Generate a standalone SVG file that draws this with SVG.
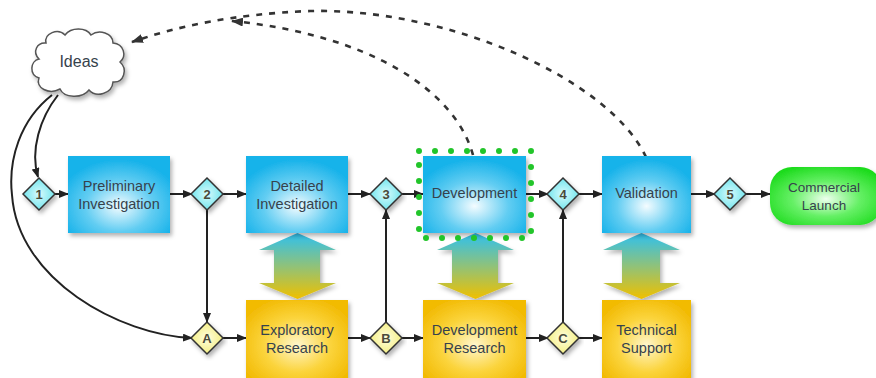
<svg xmlns="http://www.w3.org/2000/svg" width="876" height="378" viewBox="0 0 876 378">
<defs>
<radialGradient id="gBlue" cx="0.5" cy="0.65" r="0.6">
<stop offset="0" stop-color="#f4fcff"/><stop offset="0.55" stop-color="#62cdf2"/><stop offset="1" stop-color="#19b3ea"/>
</radialGradient>
<radialGradient id="gYel" cx="0.5" cy="0.55" r="0.6">
<stop offset="0" stop-color="#fff6cc"/><stop offset="0.55" stop-color="#fbd43c"/><stop offset="1" stop-color="#f2bb05"/>
</radialGradient>
<radialGradient id="gGreen" cx="0.5" cy="0.55" r="0.6">
<stop offset="0" stop-color="#eeffee"/><stop offset="0.5" stop-color="#66f066"/><stop offset="1" stop-color="#1fdc1f"/>
</radialGradient>
<linearGradient id="gArrow" x1="0" y1="0" x2="0" y2="1">
<stop offset="0" stop-color="#2ec0f0"/><stop offset="0.5" stop-color="#8fc27a"/><stop offset="1" stop-color="#f0c000"/>
</linearGradient>
<radialGradient id="gDiaC" cx="0.5" cy="0.5" r="0.6">
<stop offset="0" stop-color="#d8fbfd"/><stop offset="1" stop-color="#5fe0ea"/>
</radialGradient>
<radialGradient id="gDiaY" cx="0.5" cy="0.5" r="0.6">
<stop offset="0" stop-color="#fffde0"/><stop offset="1" stop-color="#f2ec70"/>
</radialGradient>
<filter id="sh" x="-10%" y="-10%" width="125%" height="130%">
<feDropShadow dx="2" dy="3" stdDeviation="2" flood-color="#000" flood-opacity="0.3"/>
</filter>
<marker id="ah" markerWidth="10" markerHeight="8" refX="9" refY="4" orient="auto" markerUnits="userSpaceOnUse">
<path d="M0,0 L10,4 L0,8 Z" fill="#222"/>
</marker>
<marker id="ahd" markerWidth="12" markerHeight="9" refX="11" refY="4.5" orient="auto" markerUnits="userSpaceOnUse">
<path d="M0,0 L12,4.5 L0,9 Z" fill="#333"/>
</marker>
</defs>
<style>
.t{font-family:"Liberation Sans",Arial,sans-serif;font-size:14.5px;fill:#36424c;text-anchor:middle}
.dt{font-family:"Liberation Sans",Arial,sans-serif;font-size:13px;fill:#4a4a3a;text-anchor:middle;font-weight:bold}
.ln{fill:none;stroke:#222;stroke-width:2}
.dash{fill:none;stroke:#333;stroke-width:2.6;stroke-dasharray:6 7}
.blue{fill:url(#gBlue);filter:url(#sh)}
.yel{fill:url(#gYel);filter:url(#sh)}
.dc{fill:url(#gDiaC);stroke:#333;stroke-width:1.5;filter:url(#sh)}
.dy{fill:url(#gDiaY);stroke:#333;stroke-width:1.5;filter:url(#sh)}
.dbl{fill:url(#gArrow);filter:url(#sh)}
</style>
<rect width="876" height="378" fill="#fff"/>

<g id="connectors">
<path class="dash" d="M646,157 C610,80 450,8 310,11 C235,14 178,26 132,42" marker-end="url(#ahd)"/>
<path class="dash" d="M473,155 C455,90 370,35 232,21" marker-end="url(#ahd)"/>
<path class="ln" d="M52,95 C20,120 8,160 12,195 C18,280 120,335 192,338" marker-end="url(#ah)"/>
<path class="ln" d="M58,95 C40,118 30,150 38,177" marker-end="url(#ah)"/>
<line class="ln" x1="55" y1="194" x2="68" y2="194" marker-end="url(#ah)"/>
<line class="ln" x1="170" y1="194" x2="192" y2="194" marker-end="url(#ah)"/>
<line class="ln" x1="223" y1="194" x2="246" y2="194" marker-end="url(#ah)"/>
<line class="ln" x1="207" y1="210" x2="207" y2="322" marker-end="url(#ah)"/>
<line class="ln" x1="223" y1="338" x2="246" y2="338" marker-end="url(#ah)"/>
<line class="ln" x1="348" y1="194" x2="370" y2="194" marker-end="url(#ah)"/>
<line class="ln" x1="402" y1="194" x2="423" y2="194" marker-end="url(#ah)"/>
<line class="ln" x1="348" y1="338" x2="370" y2="338" marker-end="url(#ah)"/>
<line class="ln" x1="386" y1="322" x2="386" y2="210" marker-end="url(#ah)"/>
<line class="ln" x1="402" y1="338" x2="423" y2="338" marker-end="url(#ah)"/>
<line class="ln" x1="526" y1="194" x2="548" y2="194" marker-end="url(#ah)"/>
<line class="ln" x1="526" y1="338" x2="548" y2="338" marker-end="url(#ah)"/>
<line class="ln" x1="563" y1="322" x2="563" y2="210" marker-end="url(#ah)"/>
<line class="ln" x1="579" y1="194" x2="602" y2="194" marker-end="url(#ah)"/>
<line class="ln" x1="579" y1="338" x2="602" y2="338" marker-end="url(#ah)"/>
<line class="ln" x1="691" y1="194" x2="715" y2="194" marker-end="url(#ah)"/>
<line class="ln" x1="746" y1="194" x2="770" y2="194" marker-end="url(#ah)"/>
<path class="dbl" d="M297.5,233 L336,250 L320,250 L320,283 L336,283 L297.5,299 L259,283 L274,283 L274,250 L259,250 Z"/>
<path class="dbl" d="M475.5,233 L514,250 L498,250 L498,283 L514,283 L475.5,299 L437,283 L452,283 L452,250 L437,250 Z"/>
<path class="dbl" d="M641.5,233 L680,250 L660,250 L660,283 L680,283 L641.5,299 L603,283 L622,283 L622,250 L603,250 Z"/>
</g>

<g id="ideas">
<path d="M46,43 C44,33 58,28 65,35 C71,27 86,27 91,35 C99,29 113,33 113,43 C124,44 127,56 120,62 C128,69 124,83 113,82 C112,94 96,98 89,90 C82,99 64,98 60,89 C49,95 35,88 39,78 C29,75 30,61 39,59 C32,52 37,42 46,43 Z" fill="#fff" stroke="#555" stroke-width="1.5" filter="url(#sh)"/>
<text class="t" x="79" y="67" style="font-size:16px">Ideas</text>
</g>

<g id="prelim">
<rect class="blue" x="68" y="156" width="102" height="77"/>
<text class="t" x="119" y="191">Preliminary</text>
<text class="t" x="119" y="209">Investigation</text>
</g>
<g id="detailed">
<rect class="blue" x="246" y="156" width="102" height="77"/>
<text class="t" x="297" y="191">Detailed</text>
<text class="t" x="297" y="209">Investigation</text>
</g>
<g id="development">
<rect class="blue" x="423" y="156" width="103" height="77"/>
<text class="t" x="474.5" y="198">Development</text>
<rect x="419" y="151" width="112" height="87" fill="none" stroke="#22c52a" stroke-width="6" stroke-linecap="round" stroke-dasharray="0 16"/>
</g>
<g id="validation">
<rect class="blue" x="602" y="156" width="89" height="77"/>
<text class="t" x="646.5" y="198">Validation</text>
</g>
<g id="launch">
<rect x="770" y="167" width="112" height="58" rx="22" fill="url(#gGreen)" filter="url(#sh)"/>
<text class="t" x="824" y="192" style="font-size:13.5px">Commercial</text>
<text class="t" x="824" y="210" style="font-size:13.5px">Launch</text>
</g>
<g id="exploratory">
<rect class="yel" x="246" y="300" width="102" height="82"/>
<text class="t" x="297" y="335">Exploratory</text>
<text class="t" x="297" y="353">Research</text>
</g>
<g id="devresearch">
<rect class="yel" x="423" y="300" width="103" height="82"/>
<text class="t" x="474.5" y="335">Development</text>
<text class="t" x="474.5" y="353">Research</text>
</g>
<g id="techsupport">
<rect class="yel" x="602" y="300" width="89" height="82"/>
<text class="t" x="646.5" y="335">Technical</text>
<text class="t" x="646.5" y="353">Support</text>
</g>

<g id="d1"><path class="dc" d="M39,178 L55,194 L39,210 L23,194 Z"/><text class="dt" x="39" y="199">1</text></g>
<g id="d2"><path class="dc" d="M207,178 L223,194 L207,210 L191,194 Z"/><text class="dt" x="207" y="199">2</text></g>
<g id="d3"><path class="dc" d="M386,178 L402,194 L386,210 L370,194 Z"/><text class="dt" x="386" y="199">3</text></g>
<g id="d4"><path class="dc" d="M563,178 L579,194 L563,210 L547,194 Z"/><text class="dt" x="563" y="199">4</text></g>
<g id="d5"><path class="dc" d="M730,178 L746,194 L730,210 L714,194 Z"/><text class="dt" x="730" y="199">5</text></g>
<g id="dA"><path class="dy" d="M207,322 L223,338 L207,354 L191,338 Z"/><text class="dt" x="207" y="343">A</text></g>
<g id="dB"><path class="dy" d="M386,322 L402,338 L386,354 L370,338 Z"/><text class="dt" x="386" y="343">B</text></g>
<g id="dC"><path class="dy" d="M563,322 L579,338 L563,354 L547,338 Z"/><text class="dt" x="563" y="343">C</text></g>
</svg>
